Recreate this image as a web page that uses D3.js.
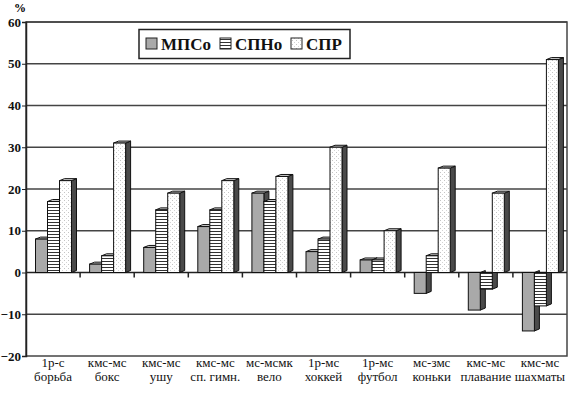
<!DOCTYPE html>
<html><head><meta charset="utf-8">
<script src="https://cdn.jsdelivr.net/npm/d3@7"></script>
<style>body{margin:0;background:#fff}svg{display:block}</style>
</head><body>
<script>
const categories = [["1р-с","борьба"],["кмс-мс","бокс"],["кмс-мс","ушу"],["кмс-мс","сп. гимн."],["мс-мсмк","вело"],["1р-мс","хоккей"],["1р-мс","футбол"],["мс-змс","коньки"],["кмс-мс","плавание"],["кмс-мс","шахматы"]];
const seriesNames = ["МПСо","СПНо","СПР"];
const mpso = [8,2,6,11,19,5,3,-5,-9,-14];
const spno = [17,4,15,15,17,8,3,4,-4,-8];
const spr = [22,31,19,22,23,30,10,25,19,51];
const yTicks = [-20,-10,0,10,20,30,40,50,60];

const FONT="Liberation Serif";
const W=570,H=399;
const svg=d3.select("body").append("svg").attr("width",W).attr("height",H);
const defs=svg.append("defs");
const ps=defs.append("pattern").attr("id","stripes").attr("patternUnits","userSpaceOnUse").attr("width",6).attr("height",3);
ps.append("rect").attr("width",6).attr("height",3).attr("fill","#fff");
ps.append("rect").attr("y",0).attr("width",6).attr("height",1).attr("fill","#333");
const pd=defs.append("pattern").attr("id","dots").attr("patternUnits","userSpaceOnUse").attr("width",4).attr("height",4);
pd.append("rect").attr("width",4).attr("height",4).attr("fill","#fff");
pd.append("rect").attr("x",0).attr("y",0).attr("width",1).attr("height",1).attr("fill","#c4c4c4");
pd.append("rect").attr("x",2).attr("y",2).attr("width",1).attr("height",1).attr("fill","#d4d4d4");
const fills=["#a9a9a9","url(#stripes)","url(#dots)"];

const L=26,R=567,T=22,B=356;
const y=d3.scaleLinear().domain([-20,60]).range([B,T]);
const x=d3.scaleBand().domain(d3.range(categories.length)).range([L,R]);
const data=[mpso,spno,spr];

svg.append("g").selectAll("line").data(yTicks.filter(t=>t!==0&&t!==-20)).join("line")
 .attr("x1",L).attr("x2",R).attr("y1",d=>y(d)).attr("y2",d=>y(d)).attr("stroke","#444").attr("stroke-width",1.5);
svg.append("rect").attr("x",L).attr("y",T).attr("width",R-L).attr("height",B-T).attr("fill","none").attr("stroke","#444").attr("stroke-width",1.5);
const ya=svg.append("g").attr("transform",`translate(${L},0)`).call(d3.axisLeft(y).tickValues(yTicks).tickSize(4).tickPadding(1));
ya.attr("font-family",FONT);
ya.select(".domain").attr("stroke","#222").attr("stroke-width",1.5);
ya.selectAll("text").attr("font-family",FONT).attr("font-weight","bold").attr("font-size",13).attr("fill","#111");
ya.selectAll("line").attr("stroke","#222");
svg.append("text").attr("x",14).attr("y",12).text("%").attr("font-family",FONT).attr("font-weight","bold").attr("font-size",12);

svg.append("line").attr("x1",L).attr("x2",R).attr("y1",y(0)).attr("y2",y(0)).attr("stroke","#222").attr("stroke-width",1.5);
svg.append("g").selectAll("line").data(d3.range(1,categories.length)).join("line")
 .attr("x1",d=>x(d)).attr("x2",d=>x(d)).attr("y1",y(0)).attr("y2",y(0)+5).attr("stroke","#222").attr("stroke-width",1.5);

const bw=12, dx=5, dy=2, off=9.5;
const bars=svg.append("g");
categories.forEach((c,i)=>{
  data.forEach((s,k)=>{
    const v=s[i];
    const x0=x(i)+off+k*bw, x1=x0+bw;
    const yv=y(v), y0=y(0);
    const top=Math.min(yv,y0), bot=Math.max(yv,y0);
    const g=bars.append("g");
    g.append("path").attr("d",`M${x1},${top}L${x1+dx},${top-dy}L${x1+dx},${bot-dy}L${x1},${bot}Z`)
      .attr("fill","#4a4a4a").attr("stroke","#111").attr("stroke-width",1);
    if(v>0) g.append("path").attr("d",`M${x0},${top}L${x0+dx},${top-dy}L${x1+dx},${top-dy}L${x1},${top}Z`)
      .attr("fill","#ccc").attr("stroke","#111").attr("stroke-width",1);
    g.append("rect").attr("x",x0).attr("y",top).attr("width",bw).attr("height",bot-top)
      .attr("fill",fills[k]).attr("stroke","#111").attr("stroke-width",1);
  });
});

const xl=svg.append("g");
categories.forEach((c,i)=>{
  const cx=x(i)+x.bandwidth()/2;
  c.forEach((t,j)=>{
    xl.append("text").attr("x",cx).attr("y",367+j*14).attr("text-anchor","middle")
      .attr("font-family",FONT).attr("font-size",13).attr("fill","#111").text(t);
  });
});

const lg=svg.append("g");
lg.append("rect").attr("x",139).attr("y",29.5).attr("width",211).attr("height",29).attr("fill","#fff").attr("stroke","#222").attr("stroke-width",1.5);
const lx=[146,220,291];
seriesNames.forEach((n,k)=>{
  lg.append("rect").attr("x",lx[k]).attr("y",38).attr("width",11).attr("height",11).attr("fill",fills[k]).attr("stroke","#222");
  lg.append("text").attr("x",lx[k]+15).attr("y",49.5).text(n).attr("font-family",FONT).attr("font-weight","bold").attr("font-size",17).attr("fill","#111");
});
</script>
</body></html>
